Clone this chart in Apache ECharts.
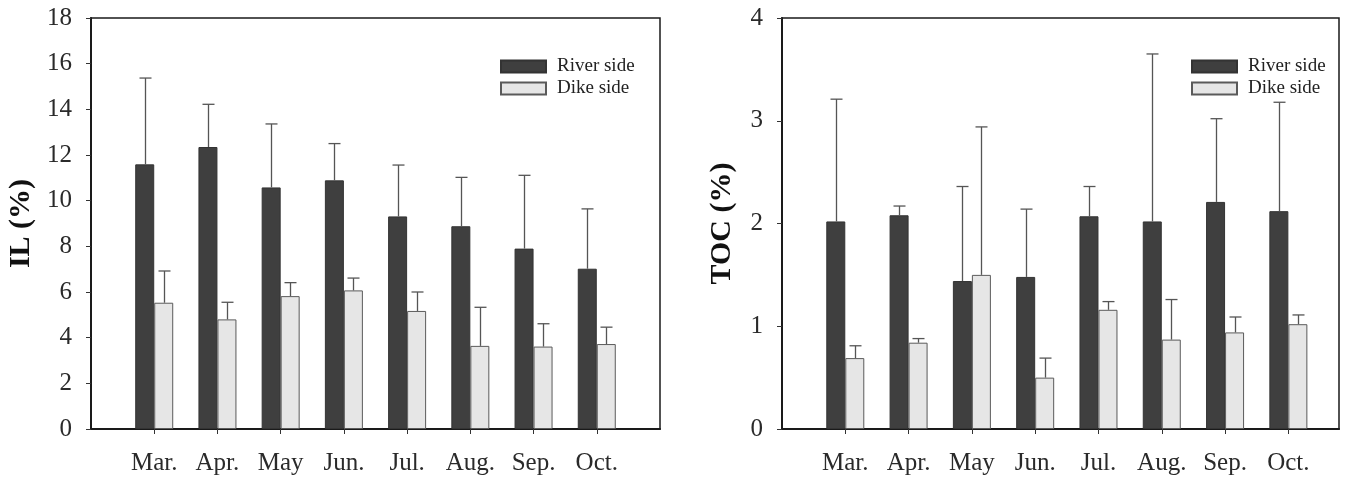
<!DOCTYPE html>
<html>
<head>
<meta charset="utf-8">
<script src="https://cdn.jsdelivr.net/npm/echarts@6/dist/echarts.min.js"></script>
<style>
  html, body { margin: 0; padding: 0; background: #fff; }
  #chart { width: 1353px; height: 477px; }
</style>
</head>
<body>
<div id="chart"></div>
<script>
const months = ['Mar.', 'Apr.', 'May', 'Jun.', 'Jul.', 'Aug.', 'Sep.', 'Oct.'];

// IL (%) - mean and upper error
const ilRiver = [11.59, 12.35, 10.58, 10.89, 9.31, 8.88, 7.90, 7.02];
const ilRiverErr = [3.78, 1.87, 2.78, 1.61, 2.25, 2.14, 3.21, 2.62];
const ilDike = [5.53, 4.80, 5.82, 6.07, 5.17, 3.64, 3.61, 3.72];
const ilDikeErr = [1.39, 0.75, 0.59, 0.54, 0.83, 1.69, 1.00, 0.74];

// TOC (%) - mean and upper error
const tocRiver = [2.02, 2.08, 1.44, 1.48, 2.07, 2.02, 2.21, 2.12];
const tocRiverErr = [1.19, 0.09, 0.92, 0.66, 0.29, 1.63, 0.81, 1.06];
const tocDike = [0.69, 0.84, 1.50, 0.50, 1.16, 0.87, 0.94, 1.02];
const tocDikeErr = [0.12, 0.04, 1.44, 0.19, 0.08, 0.39, 0.15, 0.09];

const ilTicks = [0, 2, 4, 6, 8, 10, 12, 14, 16, 18];
const tocTicks = [0, 1, 2, 3, 4];

const FONT = "'Liberation Serif', 'Times New Roman', serif";
const BAR_W = 19;
const positions = months.map((m, i) => i + 1);

const chart = echarts.init(document.getElementById('chart'));

function pairs(values) {
    return values.map((v, i) => [positions[i], v]);
}

function errData(values, errs) {
    return values.map((v, i) => [positions[i], v, errs[i]]);
}

// error bar drawn up from the bar top, shifted to the bar centre
function errorSeries(gridIdx, values, errs, shift) {
    return {
        type: 'custom',
        xAxisIndex: gridIdx,
        yAxisIndex: gridIdx,
        z: 5,
        data: errData(values, errs),
        renderItem: (params, api) => {
            const x = api.value(0);
            const v = api.value(1);
            const e = api.value(2);
            const p0 = api.coord([x, v]);
            const p1 = api.coord([x, v + e]);
            const cx = Math.round(p0[0] + shift) + 0.5;
            const style = { stroke: '#555', lineWidth: 1.3 };
            return {
                type: 'group',
                children: [
                    { type: 'line', shape: { x1: cx, y1: p0[1], x2: cx, y2: p1[1] }, style },
                    { type: 'line', shape: { x1: cx - 6, y1: p1[1], x2: cx + 6, y2: p1[1] }, style }
                ]
            };
        }
    };
}

function xAxisFor(gridIdx, max) {
    return {
        type: 'value',
        gridIndex: gridIdx,
        min: 0,
        max: max,
        splitLine: { show: false },
        axisLine: { onZero: false, lineStyle: { color: '#1a1a1a', width: 2 } },
        axisTick: { customValues: positions, inside: false, length: 5, lineStyle: { color: '#333', width: 1 } },
        axisLabel: {
            customValues: positions,
            formatter: v => months[v - 1] || '',
            color: '#2a2a2a',
            fontFamily: FONT,
            fontSize: 25,
            margin: 22
        }
    };
}

function yAxisFor(gridIdx, name, ticks, nameGap) {
    return {
        type: 'value',
        gridIndex: gridIdx,
        min: ticks[0],
        max: ticks[ticks.length - 1],
        interval: ticks[1] - ticks[0],
        name: name,
        nameLocation: 'middle',
        nameRotate: 90,
        nameGap: nameGap,
        nameTextStyle: { fontFamily: FONT, fontSize: 30, fontWeight: 'bold', color: '#111' },
        splitLine: { show: false },
        axisLine: { show: true, lineStyle: { color: '#1a1a1a', width: 2 } },
        axisTick: { show: true, inside: false, length: 5, lineStyle: { color: '#333', width: 1 } },
        axisLabel: { color: '#2a2a2a', fontFamily: FONT, fontSize: 25, margin: 19 }
    };
}

const riverStyle = { color: '#3f3f3f', borderColor: '#333', borderWidth: 1 };
const dikeStyle = { color: '#e6e6e6', borderColor: '#5a5a5a', borderWidth: 1 };

function legendFor(left) {
    return {
        orient: 'vertical',
        left: left,
        top: 57,
        padding: 0,
        itemWidth: 45,
        itemHeight: 12,
        itemGap: 3,
        icon: 'rect',
        data: ['River side', 'Dike side'],
        selectedMode: false,
        textStyle: { fontFamily: FONT, fontSize: 19, color: '#222', padding: [0, 0, 0, 6] }
    };
}

const option = {
    backgroundColor: '#fff',
    animation: false,
    grid: [
        { left: 91, top: 18, width: 569, height: 411, show: true, borderColor: '#1a1a1a', borderWidth: 1.5, backgroundColor: 'transparent' },
        { left: 782, top: 18, width: 557, height: 411, show: true, borderColor: '#1a1a1a', borderWidth: 1.5, backgroundColor: 'transparent' }
    ],
    legend: [legendFor(500), legendFor(1191)],
    xAxis: [xAxisFor(0, 9), xAxisFor(1, 8.8)],
    yAxis: [
        yAxisFor(0, 'IL (%)', ilTicks, 55),
        yAxisFor(1, 'TOC (%)', tocTicks, 45)
    ],
    series: [
        { name: 'River side', type: 'bar', xAxisIndex: 0, yAxisIndex: 0, barWidth: BAR_W, barGap: '0%', itemStyle: riverStyle, data: pairs(ilRiver) },
        { name: 'Dike side', type: 'bar', xAxisIndex: 0, yAxisIndex: 0, barWidth: BAR_W, barGap: '0%', itemStyle: dikeStyle, data: pairs(ilDike) },
        { name: 'River side', type: 'bar', xAxisIndex: 1, yAxisIndex: 1, barWidth: BAR_W, barGap: '0%', itemStyle: riverStyle, data: pairs(tocRiver) },
        { name: 'Dike side', type: 'bar', xAxisIndex: 1, yAxisIndex: 1, barWidth: BAR_W, barGap: '0%', itemStyle: dikeStyle, data: pairs(tocDike) },
        errorSeries(0, ilRiver, ilRiverErr, -BAR_W / 2),
        errorSeries(0, ilDike, ilDikeErr, BAR_W / 2),
        errorSeries(1, tocRiver, tocRiverErr, -BAR_W / 2),
        errorSeries(1, tocDike, tocDikeErr, BAR_W / 2)
    ]
};

chart.setOption(option);
</script>
</body>
</html>
